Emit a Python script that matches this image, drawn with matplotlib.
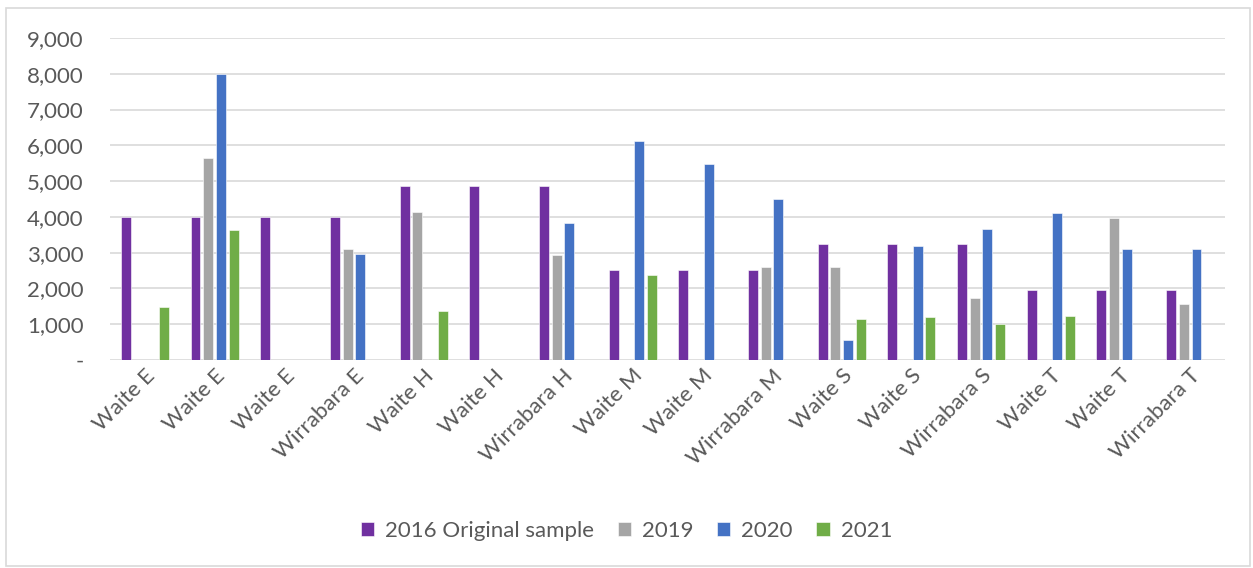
import numpy as np
import matplotlib.pyplot as plt
from matplotlib.patches import Rectangle
from matplotlib.ticker import FuncFormatter

# categories and series
sites = ["Waite E", "Waite E", "Waite E", "Wirrabara E",
         "Waite H", "Waite H", "Wirrabara H",
         "Waite M", "Waite M", "Wirrabara M",
         "Waite S", "Waite S", "Wirrabara S",
         "Waite T", "Waite T", "Wirrabara T"]
s2016 = [4000, 4000, 4000, 4000, 4870, 4870, 4870, 2520, 2520, 2520,
         3230, 3230, 3230, 1960, 1960, 1960]
s2019 = [0, 5640, 0, 3110, 4150, 0, 2930, 0, 0, 2600,
         2590, 0, 1740, 0, 3970, 1570]
s2020 = [0, 8000, 0, 2970, 0, 0, 3840, 6120, 5470, 4490,
         560, 3180, 3650, 4100, 3110, 3110]
s2021 = [1480, 3620, 0, 0, 1360, 0, 0, 2370, 0, 0,
         1150, 1200, 1020, 1230, 0, 0]
series_names = ["2016 Original sample", "2019", "2020", "2021"]
colors = ["#7030A0", "#A5A5A5", "#4472C4", "#70AD47"]

plt.rcParams['font.family'] = ['Lato', 'DejaVu Sans']
txt = "#595959"
fs = 16

fig = plt.figure(figsize=(12.53, 5.68), dpi=100)
ax = fig.add_axes([110 / 1253, 1 - 360 / 568, 1115 / 1253, 322 / 568])

x = np.arange(len(sites))
step = 0.182
width = 0.143
for i, (vals, name, col) in enumerate(zip([s2016, s2019, s2020, s2021], series_names, colors)):
    ax.bar(x + (i - 1.5) * step, vals, width=width, color=col, label=name,
           edgecolor='white', linewidth=0.4, zorder=3)

ax.set_xlim(-0.5, len(sites) - 0.5)
ax.set_ylim(0, 9000)
ax.set_yticks(range(0, 9001, 1000))
ax.yaxis.set_major_formatter(FuncFormatter(lambda v, p: "-" if v == 0 else f"{int(v):,}"))
ax.grid(axis='y', color='#D9D9D9', linewidth=1.2, zorder=0)
for s in ax.spines.values():
    s.set_visible(False)
ax.tick_params(axis='y', length=0, pad=19, labelsize=fs, labelcolor=txt)
ax.tick_params(axis='x', length=0, pad=4, labelsize=fs, labelcolor=txt)
ax.set_xticks(x)
ax.set_xticklabels(sites, rotation=45, ha='right', rotation_mode='anchor')

leg = fig.legend(loc='center', bbox_to_anchor=(0.5, 1 - 531 / 568), ncol=4, frameon=False,
                 fontsize=fs, labelcolor=txt, handlelength=0.6, handleheight=0.6,
                 handletextpad=0.5, columnspacing=1.05)

fig.patches.append(Rectangle((6 / 1253, 2 / 568), 1244 / 1253, 558 / 568, transform=fig.transFigure,
                             fill=False, edgecolor='#D9D9D9', linewidth=1.2))

fig.savefig("out.png", dpi=100)
